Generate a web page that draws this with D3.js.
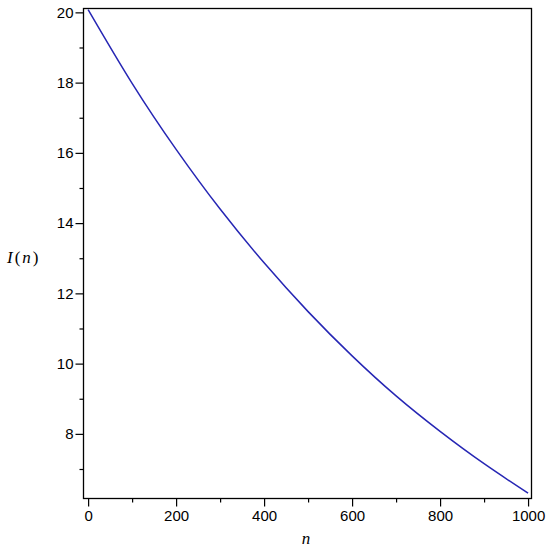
<!DOCTYPE html>
<html>
<head>
<meta charset="utf-8">
<script src="https://cdn.jsdelivr.net/npm/d3@7"></script>
<style>
  body { margin: 0; background: #fff; }
  .tick text { font-family: "Liberation Sans", Arial, sans-serif; font-size: 15px; fill: #000; }
</style>
</head>
<body>
<div id="chart"></div>
<script>
// values
const nValues = [0, 100, 200, 300, 400, 500, 600, 700, 800, 900, 1000];
const iValues = [20.08, 17.98, 16.1, 14.4, 12.87, 11.48, 10.22, 9.08, 8.07, 7.15, 6.31];
const xMajorTicks = [0, 200, 400, 600, 800, 1000];
const xMinorTicks = [100, 300, 500, 700, 900];
const yMajorTicks = [8, 10, 12, 14, 16, 18, 20];
const yMinorTicks = [7, 9, 11, 13, 15, 17, 19];

const width = 550;
const height = 550;
const box = { left: 83.5, right: 531.5, top: 8.5, bottom: 498.5 };

const svg = d3
    .select('#chart')
    .append('svg')
    .attr('width', width)
    .attr('height', height);

// Scales
const xScale = d3.scaleLinear().domain([-10.5, 1007.8]).range([box.left, box.right]);
const yScale = d3.scaleLinear().domain([6.16, 20.11]).range([box.bottom, box.top]);

// Minor ticks (no labels)
svg.append('g')
    .attr('transform', `translate(0, ${box.bottom})`)
    .call(d3.axisBottom(xScale).tickValues(xMinorTicks).tickSize(4).tickFormat(''))
    .call((g) => g.select('.domain').remove());
svg.append('g')
    .attr('transform', `translate(${box.left}, 0)`)
    .call(d3.axisLeft(yScale).tickValues(yMinorTicks).tickSize(4).tickFormat(''))
    .call((g) => g.select('.domain').remove());

// Major ticks
svg.append('g')
    .attr('transform', `translate(0, ${box.bottom})`)
    .call(d3.axisBottom(xScale).tickValues(xMajorTicks).tickSize(8).tickPadding(4).tickFormat(d3.format('d')))
    .call((g) => g.select('.domain').remove());
svg.append('g')
    .attr('transform', `translate(${box.left}, 0)`)
    .call(d3.axisLeft(yScale).tickValues(yMajorTicks).tickSize(8).tickPadding(2).tickFormat(d3.format('d')))
    .call((g) => g.select('.domain').remove());

svg.selectAll('.tick line').attr('stroke', '#000').attr('stroke-width', 1.2);

// Boxed frame
svg.append('rect')
    .attr('x', box.left)
    .attr('y', box.top)
    .attr('width', box.right - box.left)
    .attr('height', box.bottom - box.top)
    .attr('fill', 'none')
    .attr('stroke', '#000')
    .attr('stroke-width', 1.3);

// Curve
const line = d3
    .line()
    .x((d, i) => xScale(nValues[i]))
    .y((d) => yScale(d))
    .curve(d3.curveNatural);

svg.append('path')
    .datum(iValues)
    .attr('d', line)
    .attr('fill', 'none')
    .attr('stroke', '#2626b4')
    .attr('stroke-width', 1.5);

// Axis titles
svg.append('text')
    .attr('x', 306)
    .attr('y', 544)
    .attr('text-anchor', 'middle')
    .style('font-family', '"Liberation Serif", "Times New Roman", serif')
    .style('font-style', 'italic')
    .style('font-size', '17px')
    .text('n');

const yTitle = svg.append('text')
    .attr('x', 7)
    .attr('y', 263)
    .style('font-family', '"Liberation Serif", "Times New Roman", serif')
    .style('font-size', '17px');
yTitle.append('tspan').style('font-style', 'italic').text('I');
yTitle.append('tspan').attr('dx', 2).text('(');
yTitle.append('tspan').attr('dx', 2).style('font-style', 'italic').text('n');
yTitle.append('tspan').attr('dx', 2).text(')');
</script>
</body>
</html>
